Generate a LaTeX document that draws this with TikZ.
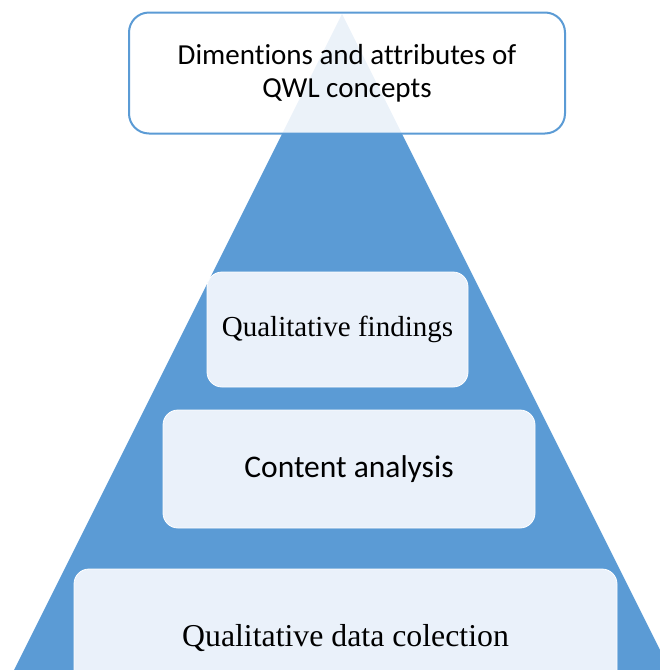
\documentclass[tikz,border=0pt]{standalone}
\usepackage{fontspec}
\setmainfont{Liberation Serif}
\newfontfamily\sansText[Ligatures=NoCommon]{Carlito}
\usetikzlibrary{positioning}
\definecolor{pyrBlue}{HTML}{5B9BD5}
\definecolor{pyrPale}{HTML}{EAF1FA}
\tikzset{
    pyramid/.style={fill=pyrBlue, draw=none},
    levelBox/.style={rectangle, rounded corners=15pt, fill=pyrPale, draw=white, line width=0.8pt, align=center, inner sep=0pt},
    topBox/.style={rectangle, rounded corners=20pt, fill=white, fill opacity=0.88, text opacity=1, draw=pyrBlue, line width=2pt, align=center, inner sep=0pt},
}

\begin{document}
\begin{tikzpicture}[x=1pt, y=-1pt]
        \useasboundingbox (0, 0) rectangle (660, 670);
        \clip (0, 0) rectangle (660, 670);

        % the pyramid
        \coordinate (apex) at (342, 14);
        \coordinate (baseL) at (14, 670);
        \coordinate (baseR) at (670, 670);
        \fill[pyramid] (apex) -- (baseL) -- (baseR) -- cycle;

        % levels, bottom to top
        \node[levelBox, minimum width=543pt, minimum height=138pt, font=\fontsize{31.8}{36}\selectfont] (collect) at (345.5, 638) {Qualitative data colection};
        \node[levelBox, minimum width=372pt, minimum height=118pt, font=\sansText\fontsize{31.5}{36}\selectfont] (content) at (349, 469) {Content analysis};
        \node[levelBox, minimum width=261pt, minimum height=115pt, font=\fontsize{29}{34}\selectfont] (findings) at (337.5, 329.5) {Qualitative findings};

        % the heading box sits over the apex
        \node[topBox, minimum width=436pt, minimum height=121pt, font=\sansText\fontsize{29}{33}\selectfont] (dims) at (347, 73) {Dimentions and attributes of\\QWL concepts};

    \end{tikzpicture}
\end{document}
